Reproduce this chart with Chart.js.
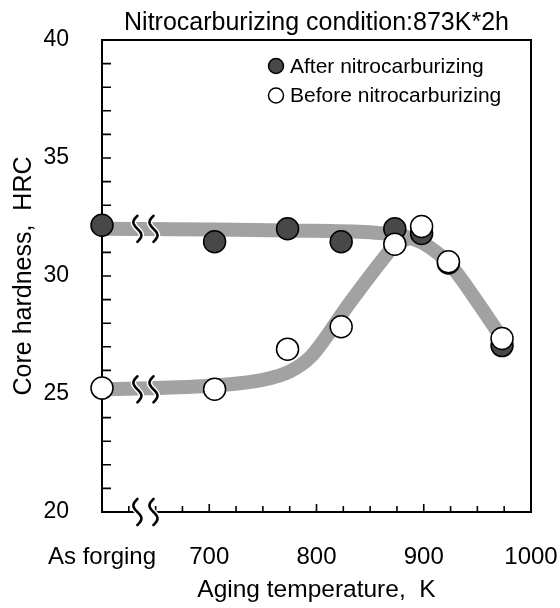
<!DOCTYPE html>
<html>
<head>
<meta charset="utf-8">
<script src="https://cdn.jsdelivr.net/npm/chart.js@4.4.1/dist/chart.umd.min.js"></script>
<style>
  html, body { margin: 0; padding: 0; background: #fff; }
</style>
</head>
<body>
<canvas id="myChart" width="560" height="608"></canvas>
<script>
// aging temperature, K (600 = as forged, plotted on the axis)
const tempPoints = [600, 705, 773, 823, 873, 898, 923, 973];
const hardAfter  = [32.15, 31.45, 32.0, 31.45, 32.0, 31.8, 30.55, 27.05];
const hardBefore = [25.25, 25.2, 26.9, 27.85, 31.35, 32.1, 30.6, 27.35];

// thick gray trend bands
const trendAfterT  = [600, 700, 775, 850, 880, 900, 925, 950, 973];
const trendAfterH  = [32.0, 31.97, 31.93, 31.85, 31.7, 31.38, 30.45, 28.9, 27.35];
const trendBeforeT = [600, 700, 750, 775, 795, 830, 860, 875, 888];
const trendBeforeH = [25.2, 25.35, 25.6, 25.95, 26.6, 28.8, 30.6, 31.4, 31.62];

const xTickLabels = { 600: 'As forging', 700: '700', 800: '800', 900: '900', 1000: '1000' };
const yTickLabels = [20, 25, 30, 35, 40];
const breakAt = [633, 648];   // axis break marks

const FONT = "'Liberation Sans', Arial, sans-serif";
const toXY = (xs, ys) => xs.map((x, i) => ({ x: x, y: ys[i] }));

// box frame + inward ticks
const framePlugin = {
  id: 'frame',
  beforeDatasetsDraw(chart) {
    const { ctx, chartArea: a, scales: { x, y } } = chart;
    ctx.save();
    ctx.strokeStyle = '#000';
    ctx.lineWidth = 2;
    ctx.strokeRect(a.left, a.top, a.right - a.left, a.bottom - a.top);
    ctx.lineWidth = 1.6;
    ctx.beginPath();
    y.ticks.forEach(t => {
      const py = y.getPixelForValue(t.value);
      ctx.moveTo(a.left, py);
      ctx.lineTo(a.left + 9, py);
    });
    x.ticks.forEach(t => {
      const px = x.getPixelForValue(t.value);
      const len = t.value % 100 === 0 ? 8 : 6;
      ctx.moveTo(px, a.bottom);
      ctx.lineTo(px, a.bottom - len);
    });
    ctx.stroke();
    ctx.restore();
  },
  afterDatasetsDraw(chart) {
    const { ctx, chartArea: a, scales: { x, y } } = chart;
    const bx = breakAt.map(v => x.getPixelForValue(v));
    ctx.save();
    // gap in the bottom axis between the marks
    ctx.fillStyle = '#fff';
    ctx.fillRect(bx[0] + 1, a.bottom - 2, bx[1] - bx[0] - 2, 4);
    const rows = [trendAfterH[0], trendBeforeH[0], y.min];
    const squiggle = (cx, cy) => {
      ctx.beginPath();
      for (let i = 0; i <= 30; i++) {
        const t = i / 30;
        const px = cx - 4 * Math.sin(2 * Math.PI * t);
        const py = cy - 13 + 26 * t;
        if (i) ctx.lineTo(px, py); else ctx.moveTo(px, py);
      }
      ctx.stroke();
    };
    ctx.lineCap = 'round';
    rows.forEach(v => {
      const cy = y.getPixelForValue(v);
      bx.forEach(cx => {
        ctx.strokeStyle = '#fff';
        ctx.lineWidth = 5.5;
        squiggle(cx, cy);
        ctx.strokeStyle = '#000';
        ctx.lineWidth = 2.6;
        squiggle(cx, cy);
      });
    });
    ctx.restore();
  }
};

// legend inside the plot, upper right
const legendPlugin = {
  id: 'innerLegend',
  afterDraw(chart) {
    const { ctx, chartArea: a } = chart;
    const items = chart.data.datasets.filter(d => !d.showLine);
    ctx.save();
    ctx.font = '21px ' + FONT;
    ctx.textBaseline = 'middle';
    items.forEach((d, i) => {
      const cx = a.left + 174;
      const cy = a.top + 26 + i * 29.5;
      ctx.beginPath();
      ctx.arc(cx, cy, 7.5, 0, Math.PI * 2);
      ctx.fillStyle = d.pointBackgroundColor;
      ctx.fill();
      ctx.lineWidth = 1.5;
      ctx.strokeStyle = '#000';
      ctx.stroke();
      ctx.fillStyle = '#000';
      ctx.fillText(d.label, cx + 14, cy + 1);
    });
    ctx.restore();
  }
};

const ctx = document.getElementById('myChart').getContext('2d');
const chart = new Chart(ctx, {
  type: 'scatter',
  data: {
    datasets: [
      {
        label: 'After nitrocarburizing',
        data: toXY(tempPoints, hardAfter),
        pointRadius: 11,
        pointBackgroundColor: '#484848',
        pointBorderColor: '#000',
        pointBorderWidth: 1.5,
        clip: false,
        order: 2
      },
      {
        label: 'Before nitrocarburizing',
        data: toXY(tempPoints, hardBefore),
        pointRadius: 11,
        pointBackgroundColor: '#ffffff',
        pointBorderColor: '#000',
        pointBorderWidth: 1.5,
        clip: false,
        order: 1
      },
      {
        label: 'trend after',
        data: toXY(trendAfterT, trendAfterH),
        showLine: true,
        borderColor: '#a2a2a2',
        borderWidth: 14,
        borderCapStyle: 'butt',
        cubicInterpolationMode: 'monotone',
        pointRadius: 0,
        order: 3
      },
      {
        label: 'trend before',
        data: toXY(trendBeforeT, trendBeforeH),
        showLine: true,
        borderColor: '#a2a2a2',
        borderWidth: 14,
        borderCapStyle: 'butt',
        cubicInterpolationMode: 'monotone',
        pointRadius: 0,
        order: 4
      }
    ]
  },
  options: {
    responsive: false,
    animation: false,
    layout: { padding: { left: 0, right: 29, top: 0, bottom: 0 } },
    plugins: {
      legend: { display: false },
      tooltip: { enabled: false },
      title: {
        display: true,
        fullSize: false,
        text: 'Nitrocarburizing condition:873K*2h',
        color: '#000',
        font: { family: FONT, size: 25, weight: 'normal' },
        padding: { top: 8, bottom: 2 }
      }
    },
    scales: {
      x: {
        type: 'linear',
        min: 600,
        max: 1000,
        grid: { display: false, drawTicks: false },
        border: { display: false },
        ticks: {
          stepSize: 25,
          autoSkip: false,
          maxRotation: 0,
          padding: 31,
          color: '#000',
          font: { family: FONT, size: 24 },
          callback: v => xTickLabels[v] || ''
        },
        title: {
          display: true,
          text: 'Aging temperature,  K',
          color: '#000',
          font: { family: FONT, size: 24.5 },
          padding: { top: 0, bottom: 3 }
        },
        afterFit: s => {
          s.height = 96;
          s.paddingLeft = 0;
          s.paddingRight = 0;
        }
      },
      y: {
        min: 20,
        max: 40,
        grid: { display: false, drawTicks: false },
        border: { display: false },
        ticks: {
          stepSize: 1,
          autoSkip: false,
          padding: 33,
          color: '#000',
          font: { family: FONT, size: 23 },
          callback: v => yTickLabels.includes(v) ? String(v) : ''
        },
        title: {
          display: true,
          text: 'Core hardness,  HRC',
          color: '#000',
          font: { family: FONT, size: 25 },
          padding: { top: 9, bottom: 0 }
        },
        afterFit: s => {
          s.width = 102;
          s.paddingTop = 0;
          s.paddingBottom = 0;
        }
      }
    }
  },
  plugins: [framePlugin, legendPlugin]
});
</script>
</body>
</html>
